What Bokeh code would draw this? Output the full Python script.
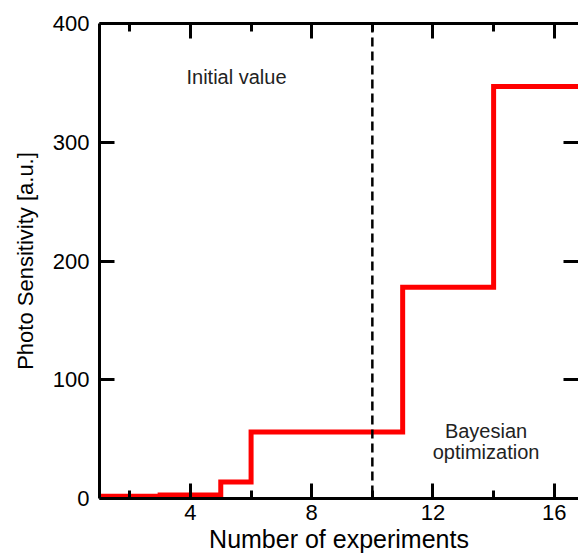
from bokeh.plotting import figure
from bokeh.models import Range1d, LinearAxis, FixedTicker, Span
from bokeh.core.properties import value
from bokeh.embed import file_html
from bokeh.resources import INLINE

# Best photo sensitivity found so far after each experiment
experiments = list(range(1, 18))
best_sensitivity = [2, 2, 3, 3, 14, 56, 56, 56, 56, 56, 178, 178, 178, 347, 347, 347, 347]

x_major = [4, 8, 12, 16]
x_minor = [2, 6, 10, 14]
y_major = [0, 100, 200, 300, 400]
switch_point = 10  # start of Bayesian optimization

notes_x = [5.52, 13.75, 13.75]
notes_y = [355, 57, 39]
notes_text = ["Initial value", "Bayesian", "optimization"]

FONT = "Liberation Sans"

p = figure(width=578, height=560,
           x_range=Range1d(1, 16.8), y_range=Range1d(0, 400),
           output_backend="svg", toolbar_location=None,
           min_border_left=99, min_border_right=0,
           min_border_top=23, min_border_bottom=62)
p.outline_line_color = None
p.grid.visible = False
p.background_fill_color = "white"
p.border_fill_color = "white"

p.step(experiments, best_sensitivity, mode="after",
       line_color="#ff0000", line_width=5, line_join="miter")

p.add_layout(Span(location=switch_point, dimension="height",
                  line_color="black", line_width=2.5, line_dash="9 5"))

p.text(x=notes_x, y=notes_y, text=notes_text,
       text_font=value(FONT), text_font_size="20px",
       text_align="center", text_baseline="middle", text_color="#222222")


def style_axis(ax, ticks, minors, show_labels):
    ax.ticker = FixedTicker(ticks=ticks, minor_ticks=minors)
    ax.axis_line_width = 3
    ax.axis_line_color = "black"
    ax.major_tick_line_width = 3
    ax.minor_tick_line_width = 3
    ax.major_tick_in = 15
    ax.major_tick_out = 0
    ax.minor_tick_in = 8
    ax.minor_tick_out = 0
    ax.major_label_text_font = FONT
    ax.major_label_text_color = "black"
    ax.axis_label_text_font = FONT
    ax.axis_label_text_font_style = "normal"
    ax.axis_label_text_color = "black"
    if not show_labels:
        ax.major_label_text_font_size = "0px"
        ax.major_label_standoff = 0
        ax.major_label_text_color = None


xb = p.xaxis[0]
style_axis(xb, x_major, x_minor, True)
xb.major_label_text_font_size = "22px"
xb.major_label_standoff = 6
xb.axis_label = "Number of experiments"
xb.axis_label_text_font_size = "25px"
xb.axis_label_standoff = 2

yl = p.yaxis[0]
style_axis(yl, y_major, [], True)
yl.major_label_text_font_size = "22px"
yl.major_label_standoff = 10
yl.axis_label = "Photo Sensitivity [a.u.]"
yl.axis_label_text_font_size = "22px"
yl.axis_label_standoff = 12

top = LinearAxis()
style_axis(top, x_major, x_minor, False)
p.add_layout(top, "above")

right = LinearAxis()
style_axis(right, y_major, [], False)
right.axis_line_color = None
p.add_layout(right, "right")

open("out.html", "w").write(file_html(p, INLINE))
